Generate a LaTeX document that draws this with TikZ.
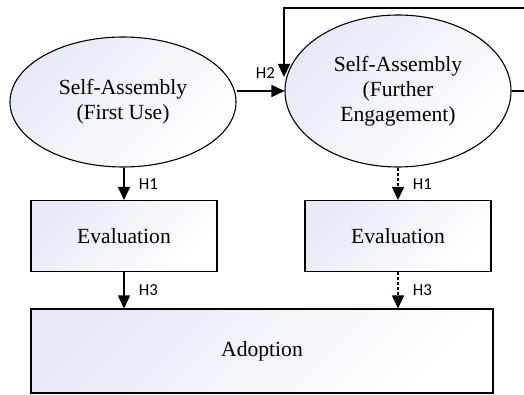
\documentclass[tikz,border=0pt]{standalone}
\usepackage{fontspec}
\setmainfont{Liberation Serif}
\newfontfamily\labelfont{Carlito}
\usetikzlibrary{arrows.meta,shapes.geometric}
\definecolor{shadeblue}{RGB}{230,234,247}

\begin{document}
\begin{tikzpicture}[x=0.5pt, y=-0.5pt,
    font=\fontsize{10.8}{12.5}\selectfont,
    shaded/.style={draw, line width=0.55pt, top color=shadeblue, bottom color=white, shading angle=45},
    stage/.style={shaded, ellipse, inner sep=0pt, align=center},
    box/.style={shaded, rectangle, inner sep=0pt, align=center},
    arr/.style={line width=0.85pt, -{Triangle[length=6.5pt, width=6pt]}},
    hyp/.style={font=\labelfont\fontsize{8.4}{10}\selectfont, inner sep=0pt}]
        % frame of the picture
        \clip (0,0) rectangle (524,395);
        % stages of self-assembly
        \node[stage, minimum width=113pt, minimum height=65pt] (first) at (123,102) {Self-Assembly\\(First Use)};
        \node[stage, minimum width=113pt, minimum height=76pt] (further) at (398,91) {Self-Assembly\\(Further\\Engagement)};
        \node[box, minimum width=93pt, minimum height=35.5pt] (evalA) at (124,236) {Evaluation};
        \node[box, minimum width=93pt, minimum height=35.5pt] (evalB) at (398,236) {Evaluation};
        \node[box, minimum width=231pt, minimum height=42pt] (adopt) at (262,351) {Adoption};
        % feedback loop
        \coordinate (loopR) at (540,8);
        \coordinate (loopL) at (284,8);
        \coordinate (loopIn) at (284,77);
        \draw[arr] (further.east) -| (loopR) -- (loopL) -- (loopIn);
        % hypotheses
        \draw[arr] (first.east |- further.west) -- node[hyp, pos=0.6, above=6pt] {H2} (further.west);
        \draw[arr] (first.south -| evalA.north) -- node[hyp, midway, right=7pt] {H1} (evalA.north);
        \draw[arr] (evalA.south) -- node[hyp, midway, right=7pt] {H3} (evalA.south |- adopt.north);
        \draw[arr, dash pattern=on 1.5pt off 1pt] (further.south) -- node[hyp, midway, right=7pt] {H1} (evalB.north);
        \draw[arr, dash pattern=on 1.5pt off 1pt] (evalB.south) -- node[hyp, midway, right=7pt] {H3} (evalB.south |- adopt.north);
\end{tikzpicture}
\end{document}
